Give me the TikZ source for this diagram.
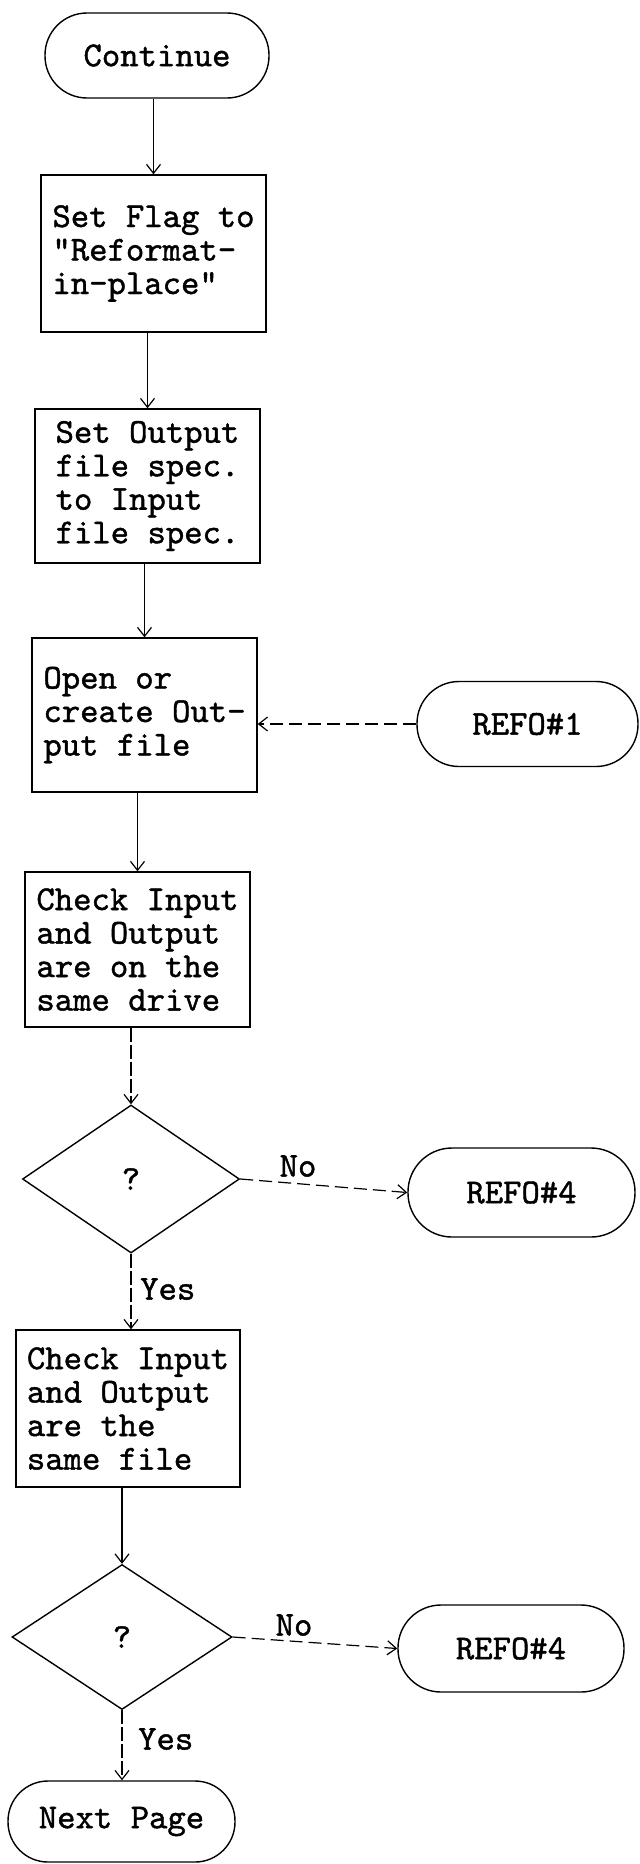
\documentclass[tikz,border=0pt]{standalone}
\usepackage{fontspec}
\setmonofont{lmmono10-regular}[Extension=.otf,FakeBold=1.2]
\usetikzlibrary{shapes.geometric,arrows.meta}
\begin{document}
\begin{tikzpicture}[x=1pt,y=-1pt,
  txt/.style={font=\ttfamily\fontsize{35}{33.5}\selectfont},
  proc/.style={draw, line width=1.4pt, txt, rectangle, minimum width=225pt, minimum height=155pt, align=left, inner sep=0pt},
  term/.style={draw, line width=1.4pt, txt, rectangle, rounded corners=42pt, minimum width=224pt, minimum height=85pt},
  dec/.style={draw, line width=1.4pt, txt, diamond, minimum width=217pt, minimum height=148pt, inner sep=0pt},
  arr/.style={-{Straight Barb[length=9pt,width=14pt]}, line width=1.2pt},
  vdarr/.style={arr, dash pattern=on 14pt off 3pt},
  hdarr/.style={arr, dash pattern=on 13pt off 6pt},
  lbl/.style={txt, inner sep=0pt}]
\fill[white] (0,0) rectangle (640,1864);
\useasboundingbox (0,0) rectangle (640,1864);
% main column
\node[term] (cont) at (157,55.5) {Continue};
\node[proc, minimum height=157pt] (b1) at (153.5,253.5) {Set Flag to\\"Reformat-\\in-place"};
\node[proc, minimum height=154pt] (b2) at (147.5,486) {Set Output\\file spec.\\to Input\\file spec.};
\node[proc, minimum height=154pt] (b3) at (144.5,715) {Open or\\create Out-\\put file};
\node[proc] (b4) at (137.5,949.5) {Check Input\\and Output\\are on the\\same drive};
\node[dec] (d1) at (131,1179) {?};
\node[proc, minimum width=224pt, minimum height=157pt] (b5) at (128,1408.5) {Check Input\\and Output\\are the\\same file};
\node[dec, minimum width=220pt, minimum height=145pt] (d2) at (122,1637) {?};
\node[term, minimum width=227pt, minimum height=81pt, rounded corners=40pt] (next) at (121.5,1821.5) {Next Page};
% connectors on the right
\node[term, minimum width=221pt] (r1) at (527.5,724) {REFO\#1};
\node[term, minimum width=227pt, minimum height=89pt, rounded corners=44pt] (r4a) at (521.5,1192.5) {REFO\#4};
\node[term, minimum width=226pt, minimum height=87pt, rounded corners=43pt] (r4b) at (511,1648.5) {REFO\#4};
% labels
\node[lbl] (no1) at (298,1166) {No};
\node[lbl] (no2) at (294,1625) {No};
\node[lbl, anchor=west] (yes1) at (140,1289) {Yes};
\node[lbl, anchor=west] (yes2) at (138,1739) {Yes};
% arrows
\draw[arr] (b1.north |- cont.south) -- (b1.north);
\draw[arr] (b2.north |- b1.south) -- (b2.north);
\draw[arr] (b3.north |- b2.south) -- (b3.north);
\draw[arr] (b4.north |- b3.south) -- (b4.north);
\draw[vdarr] (d1.north |- b4.south) -- (d1.north);
\draw[vdarr] (d1.south) -- (d1.south |- b5.north);
\draw[arr] (d2.north |- b5.south) -- (d2.north);
\draw[vdarr] (d2.south) -- (d2.south |- next.north);
\draw[hdarr] (r1.west) -- (r1.west -| b3.east);
\draw[hdarr] (d1.east) -- (r4a.west);
\draw[hdarr] (d2.east) -- (r4b.west);
\end{tikzpicture}
\end{document}
